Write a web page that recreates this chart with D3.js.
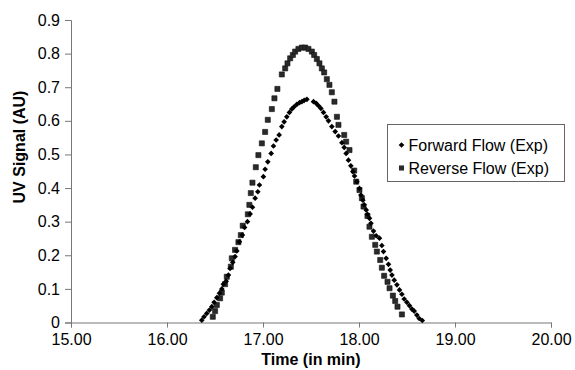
<!DOCTYPE html>
<html>
<head>
<meta charset="utf-8">
<script src="https://cdn.jsdelivr.net/npm/d3@7"></script>
<style>
  body { margin: 0; background: #fff; }
  svg { display: block; font-family: "Liberation Sans", Arial, sans-serif; }
  .tick text { font-size: 16px; fill: #000; }
  .titulo { font-size: 16px; font-weight: bold; fill: #000; }
  .legenda text { font-size: 16px; fill: #000; }
</style>
</head>
<body>
<div id="chart"></div>
<script>
// ticks
const xTicks = [15, 16, 17, 18, 19, 20];
const yTicks = [0, 0.1, 0.2, 0.3, 0.4, 0.5, 0.6, 0.7, 0.8, 0.9];

// Forward Flow (Exp) - losangos
const forwardTime = [16.362, 16.386, 16.414, 16.442, 16.467, 16.491, 16.519, 16.546, 16.571, 16.587,
  16.616, 16.640, 16.657, 16.685, 16.709, 16.727, 16.754, 16.785, 16.808, 16.838,
  16.866, 16.890, 16.918, 16.946, 16.963, 17.004, 17.022, 17.050, 17.085, 17.109,
  17.137, 17.168, 17.196, 17.220, 17.248, 17.275, 17.300, 17.324, 17.353, 17.380,
  17.405, 17.429, 17.457, 17.526, 17.554, 17.578, 17.603, 17.630, 17.658, 17.682,
  17.717, 17.752, 17.786, 17.822, 17.846, 17.866, 17.890, 17.915, 17.936, 17.953,
  17.978, 18.005, 18.020, 18.040, 18.054, 18.075, 18.088, 18.109, 18.124, 18.151,
  18.179, 18.213, 18.238, 18.255, 18.283, 18.307, 18.325, 18.343, 18.367, 18.395,
  18.422, 18.447, 18.471, 18.499, 18.526, 18.551, 18.575, 18.603, 18.627, 18.659];
const forwardSignal = [0.007, 0.017, 0.027, 0.037, 0.047, 0.060, 0.074, 0.087, 0.100, 0.114,
  0.123, 0.141, 0.161, 0.179, 0.196, 0.213, 0.240, 0.260, 0.283, 0.300,
  0.323, 0.343, 0.370, 0.389, 0.409, 0.434, 0.456, 0.478, 0.503, 0.525,
  0.543, 0.558, 0.583, 0.597, 0.612, 0.625, 0.635, 0.642, 0.649, 0.654,
  0.657, 0.661, 0.664, 0.657, 0.652, 0.645, 0.637, 0.625, 0.612, 0.600,
  0.583, 0.568, 0.555, 0.535, 0.521, 0.503, 0.483, 0.466, 0.449, 0.436,
  0.419, 0.399, 0.379, 0.364, 0.350, 0.335, 0.322, 0.310, 0.295, 0.272,
  0.258, 0.251, 0.229, 0.211, 0.191, 0.173, 0.156, 0.141, 0.126, 0.112,
  0.097, 0.084, 0.070, 0.060, 0.050, 0.040, 0.034, 0.022, 0.012, 0.006];

// Reverse Flow (Exp) - quadrados
const reverseTime = [16.477, 16.501, 16.519, 16.553, 16.571, 16.605, 16.623, 16.665, 16.675, 16.709,
  16.744, 16.769, 16.789, 16.842, 16.858, 16.873, 16.890, 16.925, 16.952, 16.988,
  17.022, 17.050, 17.092, 17.119, 17.150, 17.196, 17.231, 17.255, 17.283, 17.311,
  17.335, 17.369, 17.405, 17.439, 17.473, 17.509, 17.533, 17.561, 17.588, 17.613,
  17.637, 17.665, 17.692, 17.717, 17.744, 17.770, 17.786, 17.846, 17.866, 17.901,
  17.950, 17.971, 18.005, 18.030, 18.047, 18.088, 18.109, 18.134, 18.169, 18.186,
  18.221, 18.238, 18.262, 18.297, 18.318, 18.353, 18.377, 18.401, 18.447];
const reverseSignal = [0.017, 0.034, 0.052, 0.072, 0.089, 0.114, 0.136, 0.166, 0.191, 0.216,
  0.239, 0.260, 0.288, 0.322, 0.350, 0.385, 0.416, 0.462, 0.498, 0.533,
  0.567, 0.603, 0.635, 0.667, 0.695, 0.738, 0.756, 0.771, 0.786, 0.796,
  0.806, 0.814, 0.818, 0.818, 0.814, 0.806, 0.796, 0.784, 0.771, 0.756,
  0.744, 0.724, 0.707, 0.685, 0.657, 0.612, 0.588, 0.558, 0.538, 0.513,
  0.452, 0.419, 0.394, 0.370, 0.345, 0.317, 0.285, 0.255, 0.231, 0.211,
  0.186, 0.163, 0.139, 0.121, 0.102, 0.080, 0.064, 0.047, 0.024];

const seriesNames = ['Forward Flow (Exp)', 'Reverse Flow (Exp)'];

const W = 575, H = 370;
const margin = { top: 20, right: 24, bottom: 48, left: 71 };

const svg = d3.select('#chart').append('svg')
  .attr('width', W)
  .attr('height', H);

const x = d3.scaleLinear().domain([15, 20]).range([margin.left, W - margin.right]);
const y = d3.scaleLinear().domain([0, 0.9]).range([H - margin.bottom + 0.5, margin.top]);

// eixo X
const gx = svg.append('g')
  .attr('transform', `translate(0,${y(0)})`)
  .call(d3.axisBottom(x).tickValues(xTicks).tickFormat(d3.format('.2f')).tickSize(5).tickPadding(6));
gx.select('.domain').attr('stroke', '#777');
gx.selectAll('.tick line').attr('stroke', '#777');

// eixo Y
const gy = svg.append('g')
  .attr('transform', `translate(${x(15)},0)`)
  .call(d3.axisLeft(y).tickValues(yTicks).tickFormat(d => d === 0 ? '0' : d3.format('.1f')(d)).tickSize(6).tickPadding(5));
gy.select('.domain').attr('stroke', '#777');
gy.selectAll('.tick line').attr('stroke', '#777');
svg.selectAll('.tick text').attr('font-family', '"Liberation Sans", Arial, sans-serif');

// títulos
svg.append('text').attr('class', 'titulo')
  .attr('x', (x(15) + x(20)) / 2).attr('y', 365)
  .attr('text-anchor', 'middle')
  .text('Time (in min)');

svg.append('text').attr('class', 'titulo')
  .attr('transform', 'translate(25,147) rotate(-90)')
  .attr('text-anchor', 'middle')
  .text('UV Signal (AU)');

const diamond = d3.symbol().type(d3.symbolSquare).size(16);
const square = d3.symbol().type(d3.symbolSquare).size(26);

const fwd = forwardTime.map((t, i) => ({ t, v: forwardSignal[i] }));
const rev = reverseTime.map((t, i) => ({ t, v: reverseSignal[i] }));

svg.append('g').selectAll('path').data(rev).enter().append('path')
  .attr('d', square)
  .attr('transform', d => `translate(${x(d.t)},${y(d.v)})`)
  .attr('fill', '#2a2a2a')
  .attr('stroke', '#111')
  .attr('stroke-width', 0.6);

svg.append('g').selectAll('path').data(fwd).enter().append('path')
  .attr('d', diamond)
  .attr('transform', d => `translate(${x(d.t)},${y(d.v)}) rotate(45)`)
  .attr('fill', '#000');

// legenda
const leg = svg.append('g').attr('class', 'legenda').attr('transform', 'translate(387.5,124.5)');
leg.append('rect').attr('width', 177).attr('height', 57)
  .attr('fill', '#fff').attr('stroke', '#666').attr('stroke-width', 1);
seriesNames.forEach((name, i) => {
  const cy = 20.5 + i * 23;
  leg.append('path')
    .attr('d', i === 0 ? diamond : square)
    .attr('transform', `translate(14,${cy})` + (i === 0 ? ' rotate(45)' : ''))
    .attr('fill', i === 0 ? '#000' : '#2a2a2a');
  leg.append('text').attr('x', 21).attr('y', cy + 6).text(name);
});
</script>
</body>
</html>
